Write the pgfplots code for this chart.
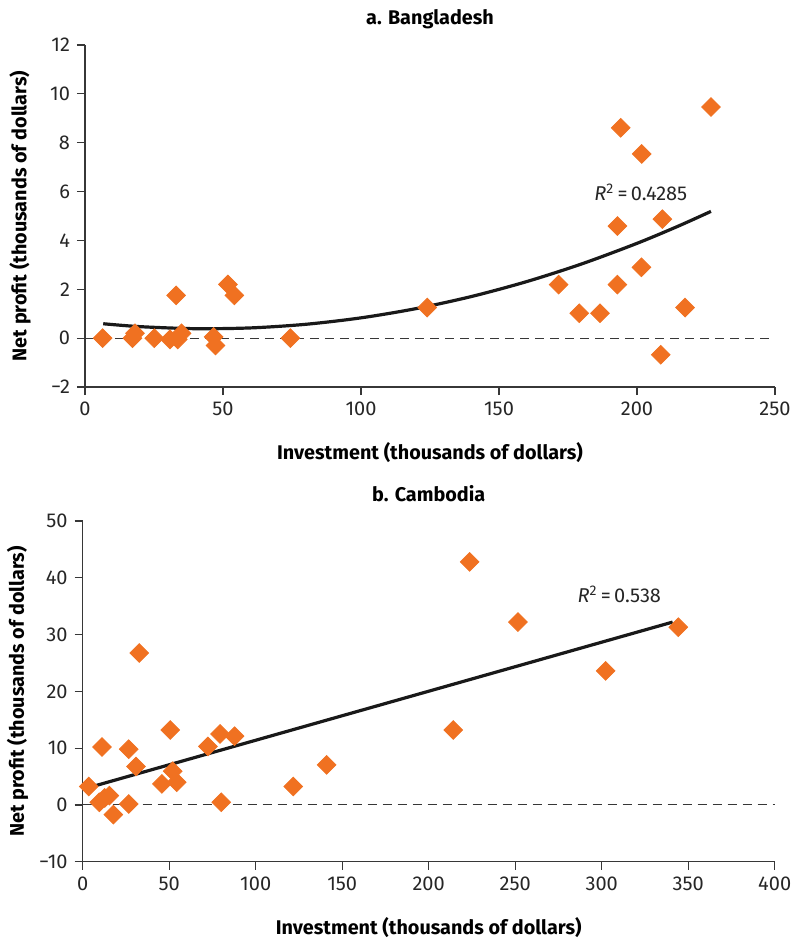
\documentclass[border=0pt]{standalone}
\usepackage{fontspec}
\setmainfont{Fira Sans}
\usepackage{pgfplots}
\pgfplotsset{compat=1.18}

\definecolor{dotorange}{RGB}{240,113,33}
\definecolor{axisgray}{RGB}{55,55,55}

\pgfplotsset{
  panel/.style={
    scale only axis,
    anchor=south west,
    axis lines*=left,
    axis line style={axisgray, line width=0.6pt},
    tick style={axisgray, line width=0.6pt},
    tick align=outside,
    major tick length=4pt,
    tick label style={font=\fontsize{10}{12}\selectfont, text=black!85},
    /pgf/number format/assume math mode=true,
    xlabel style={font=\bfseries\fontsize{9.9}{11}\selectfont, at={(axis description cs:0.5,-0.193)}, anchor=center},
    ylabel style={font=\bfseries\fontsize{9.9}{11}\selectfont, at={(axis description cs:-0.094,0.5)}, anchor=center},
    title style={font=\bfseries\fontsize{9.9}{11}\selectfont, anchor=center, yshift=0pt},
    clip=false,
  },
  dots/.style={only marks, mark=square*, mark size=3.3pt,
    mark options={rotate=45, fill=dotorange, draw=none}, color=dotorange},
  zeroline/.style={no marks, axisgray, line width=0.5pt, dash pattern=on 4.5pt off 3pt},
  trend/.style={no marks, black!90, line width=1.6pt},
}

\begin{document}
\begin{tikzpicture}
\path[use as bounding box] (-42.5pt,-275.5pt) rectangle (353.5pt,193.5pt);

% Panel a: Bangladesh
\begin{axis}[panel,
  at={(0pt,0pt)},
  width=345pt, height=171pt,
  xmin=0, xmax=250, ymin=-2, ymax=12,
  xtick={0,50,...,250},
  ytick={-2,0,...,12},
  yticklabels={−2,0,2,4,6,8,10,12},
  title={a. Bangladesh},
  title style={at={(axis description cs:0.5,1.040)}},
  xlabel={Investment (thousands of dollars)},
  ylabel={Net profit (thousands of dollars)},
]
\addplot[zeroline] coordinates {(0,0) (250,0)};
\addplot[dots] coordinates {
  (6.4,0) (17.2,0) (18.1,0.2) (25.1,0) (30.8,-0.05) (33.6,-0.05) (35,0.2)
  (33,1.75) (51.8,2.2) (54.1,1.75) (46.6,0.05) (47.3,-0.3) (74.4,0)
  (124,1.25) (171.6,2.19) (179.1,1.02) (186.6,1.02) (192.9,2.19) (192.9,4.59)
  (194.1,8.61) (201.7,7.54) (201.6,2.9) (209.2,4.87) (208.6,-0.68)
  (217.4,1.25) (226.8,9.46)
};
% second-order polynomial trend line
\addplot[trend, smooth] coordinates {
  (6.6,0.590) (20,0.470) (40,0.387) (60,0.419) (80,0.567) (100,0.831)
  (120,1.210) (140,1.704) (160,2.314) (180,3.040) (200,3.881) (215,4.588)
  (226.8,5.189)
};
\node[anchor=west, font=\fontsize{10}{12}\selectfont, text=black!85] at (axis cs:182,5.97)
  {\textit{R}\textsuperscript{2}\,=\,0.4285};
\end{axis}

% Panel b: Cambodia
\begin{axis}[panel,
  at={(-1.15pt,-237.35pt)},
  width=346pt, height=170.35pt,
  xmin=0, xmax=400, ymin=-10, ymax=50,
  xtick={0,50,...,400},
  ytick={-10,0,...,50},
  yticklabels={−10,0,10,20,30,40,50},
  title={b. Cambodia},
  title style={at={(axis description cs:0.5,1.045)}},
  xlabel={Investment (thousands of dollars)},
  ylabel={Net profit (thousands of dollars)},
]
\addplot[zeroline] coordinates {(0,0) (400,0)};
\addplot[dots] coordinates {
  (3.5,3.23) (9.6,0.46) (11.2,10.2) (12.7,1.23) (15.4,1.64) (17.7,-1.71)
  (26.6,9.82) (26.6,0.17) (30.8,6.76) (32.7,26.76) (45.8,3.7) (50.6,13.2)
  (52,5.94) (54.3,4.0) (72.4,10.3) (79.4,12.5) (80.1,0.47) (87.8,12.1)
  (121.7,3.23) (141,7.05) (214.2,13.2) (223.7,42.8) (251.6,32.2)
  (302.3,23.6) (344.3,31.3)
};
% linear trend line
\addplot[trend] coordinates {(4,3.1) (341,32.2)};
\node[anchor=west, font=\fontsize{10}{12}\selectfont, text=black!85] at (axis cs:282,37.1)
  {\textit{R}\textsuperscript{2}\,=\,0.538};
\end{axis}
\end{tikzpicture}
\end{document}
